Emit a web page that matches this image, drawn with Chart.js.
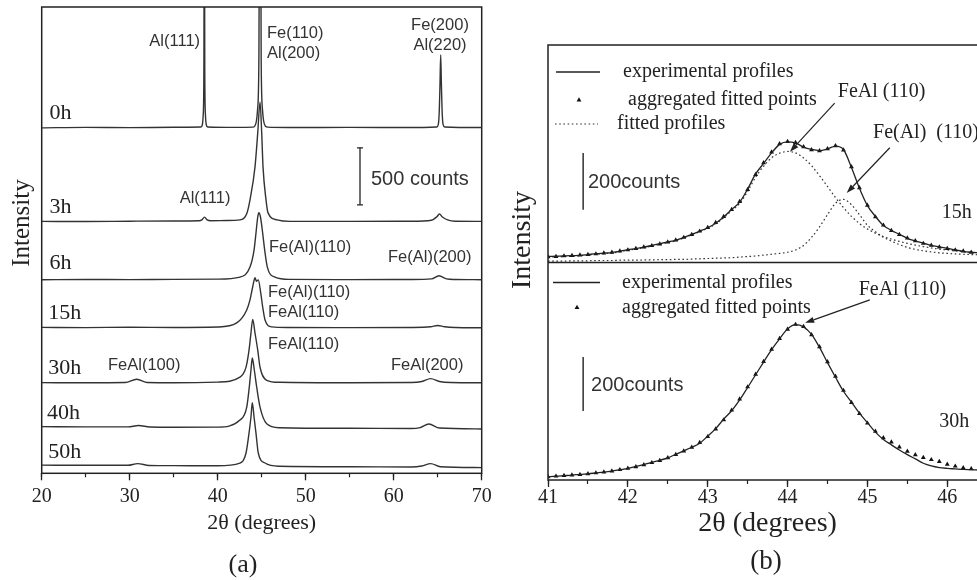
<!DOCTYPE html>
<html>
<head>
<meta charset="utf-8">
<title>FeAl milling XRD</title>
<script src="https://cdn.jsdelivr.net/npm/chart.js@4.4.1/dist/chart.umd.min.js"></script>
<style>
  html, body { margin: 0; padding: 0; background: #fff; }
  body { width: 977px; height: 580px; overflow: hidden; position: relative; }
  canvas { position: absolute; top: 0; }
  #milling { left: 0; }
  #fits { left: 500px; }
</style>
</head>
<body>
<canvas id="milling" width="500" height="580"></canvas>
<canvas id="fits" width="560" height="580"></canvas>
<script>
// ---------- (a) XRD patterns of the powder after each milling time ----------
const millTimes = ['0h', '3h', '6h', '15h', '30h', '40h', '50h'];
// vertical shift of each pattern (counts)
const patternOffsets = [3030, 2205, 1695, 1275, 790, 385, 50];

const theta0h  = [20, 25, 30, 35, 38.1, 38.25, 38.35, 38.43, 38.48, 38.53, 38.61, 38.71, 38.86, 42, 44.0, 44.19, 44.4, 44.53, 44.68, 44.81, 44.94, 45.09, 45.22, 45.43, 45.7, 48, 55, 62, 64.9, 65.07, 65.18, 65.26, 65.34, 65.42, 65.5, 65.61, 65.8, 70];
const counts0h = [0, 4, 2, 5, 8, 25, 110, 500, 2600, 500, 110, 25, 8, 4, 6, 14, 60, 160, 600, 3600, 600, 160, 60, 14, 6, 3, 4, 3, 8, 30, 150, 380, 640, 380, 150, 30, 8, 3];

const theta3h  = [20, 25, 30, 35, 37.9, 38.2, 38.5, 38.8, 39.2, 41, 42.53, 43.33, 43.67, 44.24, 44.55, 44.81, 45.0, 45.15, 45.49, 45.72, 46.74, 48.22, 55, 62, 64.3, 64.9, 65.2, 65.5, 66.2, 67, 70];
const counts3h = [5, 3, 6, 8, 10, 18, 42, 18, 10, 12, 18, 79, 193, 483, 781, 1050, 781, 483, 193, 79, 18, 5, 5, 6, 15, 45, 70, 45, 15, 6, 5];

const theta6h  = [20, 25, 30, 35, 40, 42.53, 43.67, 44.13, 44.35, 44.55, 44.68, 44.86, 45.11, 45.34, 45.64, 46.51, 48.2, 55, 62, 64.3, 65.15, 66.0, 67, 70];
const counts6h = [3, 5, 4, 6, 8, 26, 114, 263, 412, 553, 590, 553, 412, 263, 114, 26, 6, 4, 5, 10, 38, 10, 5, 3];

const theta15h  = [20, 25, 30, 35, 40, 42.16, 43.30, 43.67, 43.98, 44.24, 44.40, 44.61, 44.89, 45.11, 45.38, 46.14, 48, 55, 62, 64.2, 65.0, 65.8, 67, 70];
const counts15h = [5, 3, 6, 4, 8, 44, 158, 246, 361, 440, 410, 422, 308, 185, 70, 9, 4, 3, 4, 10, 22, 10, 4, 2];

const theta30h  = [20, 25, 29.5, 30.8, 32.0, 35, 40, 42.53, 43.22, 43.56, 43.78, 43.98, 44.24, 44.55, 44.81, 45.57, 47, 55, 62, 63.2, 64.2, 65.2, 66.5, 70];
const counts30h = [5, 4, 6, 35, 6, 4, 10, 53, 141, 290, 440, 560, 440, 290, 141, 26, 8, 4, 6, 15, 40, 15, 6, 4];

const theta40h  = [20, 25, 29.8, 31.0, 32.3, 35, 40, 42.53, 43.30, 43.59, 43.78, 43.93, 44.16, 44.43, 44.81, 45.57, 47, 55, 62, 63.0, 64.0, 65.2, 70];
const counts40h = [24, 22, 22, 34, 21, 19, 20, 82, 196, 372, 521, 626, 521, 372, 196, 50, 15, 10, 8, 16, 47, 12, 4];

const theta50h  = [20, 25, 29.8, 30.9, 32.2, 35, 40, 42.53, 43.22, 43.56, 43.78, 43.93, 44.13, 44.35, 44.61, 45.38, 47, 55, 62, 63.2, 64.2, 65.3, 70];
const counts50h = [22, 20, 20, 35, 19, 17, 16, 40, 128, 303, 444, 570, 444, 303, 128, 40, 12, 8, 5, 14, 35, 8, 0];

const millTheta  = [theta0h, theta3h, theta6h, theta15h, theta30h, theta40h, theta50h];
const millCounts = [counts0h, counts3h, counts6h, counts15h, counts30h, counts40h, counts50h];

const millTicks = [20, 30, 40, 50, 60, 70];

// ---------- (b) profile fitting of the (110) reflection ----------
const thetaB = [41.0, 41.1, 41.2, 41.3, 41.4, 41.5, 41.6, 41.7, 41.8, 41.9,
                42.0, 42.1, 42.2, 42.3, 42.4, 42.5, 42.6, 42.7, 42.8, 42.9,
                43.0, 43.1, 43.2, 43.3, 43.4, 43.5, 43.6, 43.7, 43.8, 43.9,
                44.0, 44.1, 44.2, 44.3, 44.4, 44.5, 44.6, 44.7, 44.8, 44.9,
                45.0, 45.1, 45.2, 45.3, 45.4, 45.5, 45.6, 45.7, 45.8, 45.9,
                46.0, 46.1, 46.2, 46.3, 46.4];

// 15 h
const exp15 = [21, 22, 23, 24, 25, 28, 31, 33, 35, 40,
               45, 49, 54, 60, 66, 72, 78, 88, 99, 110,
               122, 138, 160, 186, 212, 258, 311, 348, 385, 415,
               424, 420, 405, 397, 393, 399, 409, 397, 334, 261,
               200, 162, 130, 113, 99, 85, 76, 68, 60, 55,
               50, 44, 39, 36, 34];
const agg15 = [20, 21, 23, 24, 26, 28, 30, 33, 36, 40,
               44, 49, 54, 59, 65, 72, 79, 88, 98, 110,
               123, 140, 161, 186, 214, 256, 309, 350, 388, 417,
               425, 421, 406, 396, 392, 399, 410, 395, 336, 262,
               201, 160, 131, 112, 98, 86, 76, 67, 60, 54,
               49, 44, 40, 36, 33];
const fitFeAl15 = [19, 20, 21, 22, 24, 26, 29, 31, 33, 38,
                   43, 47, 52, 58, 64, 70, 76, 86, 97, 108,
                   120, 136, 157, 182, 207, 250, 300, 338, 368, 384,
                   390, 385, 367, 340, 305, 267, 228, 193, 162, 137,
                   118, 103, 91, 82, 74, 67, 61, 56, 51, 47,
                   44, 41, 38, 35, 33];
const fitFeAlSS15 = [5, 5, 5, 6, 6, 6, 7, 7, 7, 8,
                     8, 8, 9, 9, 10, 10, 11, 11, 12, 13,
                     14, 15, 16, 17, 19, 21, 23, 26, 29, 32,
                     36, 44, 60, 88, 125, 168, 208, 222, 203, 168,
                     131, 108, 89, 75, 63, 53, 46, 41, 37, 34,
                     32, 30, 29, 28, 27];
// 30 h
const exp30 = [12, 14, 16, 18, 21, 23, 26, 29, 33, 38,
               43, 50, 57, 65, 73, 82, 95, 108, 121, 136,
               162, 190, 225, 256, 296, 342, 389, 436, 482, 522,
               558, 574, 566, 538, 490, 434, 380, 328, 288, 247,
               212, 177, 150, 130, 111, 94, 78, 62, 52, 46,
               43, 41, 39, 38, 37];
const agg30 = [12, 14, 16, 18, 20, 23, 26, 29, 33, 38,
               43, 49, 56, 64, 72, 82, 94, 107, 121, 138,
               160, 188, 222, 258, 299, 344, 391, 438, 483, 523,
               557, 575, 567, 537, 492, 437, 383, 331, 286, 245,
               210, 180, 156, 140, 122, 106, 93, 83, 75, 68,
               58, 51, 45, 41, 38];
const fitTicks = [41, 42, 43, 44, 45, 46];

// ---------- shared styling ----------
const SERIF = "'Liberation Serif', 'Times New Roman', serif";
const SANS = "'Liberation Sans', Arial, sans-serif";
const INK = '#222';
const TRACE = '#333';

const pts = (xs, ys, shift = 0) => xs.map((x, i) => ({ x, y: ys[i] + shift }));

// box around the plotting area (+ optional separators at given y-scales)
function framePlugin(separators = []) {
  return {
    id: 'frame',
    afterDatasetsDraw(chart) {
      const { ctx, chartArea: a } = chart;
      ctx.save();
      ctx.strokeStyle = INK;
      ctx.lineWidth = 1.5;
      ctx.strokeRect(a.left, a.top, a.right - a.left, a.bottom - a.top);
      for (const id of separators) {
        const yb = chart.scales[id].bottom;
        ctx.beginPath();
        ctx.moveTo(a.left, yb);
        ctx.lineTo(a.right, yb);
        ctx.stroke();
      }
      ctx.restore();
    }
  };
}

// text placed at data coordinates
function notesPlugin(notes) {
  return {
    id: 'notes',
    afterDraw(chart) {
      const { ctx, scales } = chart;
      ctx.save();
      ctx.textBaseline = 'middle';
      for (const n of notes) {
        ctx.font = n.font;
        ctx.fillStyle = n.color || INK;
        ctx.textAlign = n.align || 'left';
        const px = scales.x.getPixelForValue(n.x);
        const py = scales[n.axis || 'y'].getPixelForValue(n.y);
        ctx.fillText(n.text, px, py);
      }
      ctx.restore();
    }
  };
}

// arrows pointing at reflections, in data coordinates
function arrowsPlugin(arrows) {
  return {
    id: 'arrows',
    afterDraw(chart) {
      const { ctx, scales } = chart;
      ctx.save();
      ctx.strokeStyle = INK;
      ctx.fillStyle = INK;
      ctx.lineWidth = 1.2;
      for (const a of arrows) {
        const ys = scales[a.axis];
        const x0 = scales.x.getPixelForValue(a.from[0]), y0 = ys.getPixelForValue(a.from[1]);
        const x1 = scales.x.getPixelForValue(a.to[0]), y1 = ys.getPixelForValue(a.to[1]);
        const ang = Math.atan2(y1 - y0, x1 - x0);
        const len = 9, half = 3;
        const bx = x1 - len * Math.cos(ang), by = y1 - len * Math.sin(ang);
        ctx.beginPath();
        ctx.moveTo(x0, y0);
        ctx.lineTo(bx, by);
        ctx.stroke();
        ctx.beginPath();
        ctx.moveTo(x1, y1);
        ctx.lineTo(bx + half * Math.sin(ang), by - half * Math.cos(ang));
        ctx.lineTo(bx - half * Math.sin(ang), by + half * Math.cos(ang));
        ctx.closePath();
        ctx.fill();
      }
      ctx.restore();
    }
  };
}

// free captions in canvas pixels (axis names, panel letters)
function captionsPlugin(caps) {
  return {
    id: 'captions',
    afterDraw(chart) {
      const { ctx } = chart;
      for (const c of caps) {
        ctx.save();
        ctx.font = c.font;
        ctx.fillStyle = INK;
        ctx.textAlign = 'center';
        ctx.textBaseline = 'middle';
        ctx.translate(c.x, c.y);
        if (c.rotate) ctx.rotate(c.rotate);
        ctx.fillText(c.text, 0, 0);
        ctx.restore();
      }
    }
  };
}

function bottomAxes(min, max, major, minor, tickFont, titleText, titleFont, titlePad, axisHeight, tickPad) {
  return {
    xMinor: {
      type: 'linear', position: 'bottom', weight: 0, min, max,
      ticks: { stepSize: minor, display: false },
      grid: { drawOnChartArea: false, tickLength: 4, tickWidth: 1.2, tickColor: INK },
      border: { display: false },
      afterFit(s) { s.height = 0; }
    },
    x: {
      type: 'linear', position: 'bottom', weight: 1, min, max,
      afterBuildTicks(s) { s.ticks = major.map(v => ({ value: v })); },
      ticks: { stepSize: major[1] - major[0], includeBounds: false, padding: tickPad, color: INK,
               font: { family: SERIF, size: tickFont, lineHeight: 1 } },
      grid: { drawOnChartArea: false, tickLength: 7, tickWidth: 1.3, tickColor: INK },
      border: { display: false },
      title: { display: true, text: titleText, color: INK,
               font: { family: SERIF, size: titleFont }, padding: { top: 0, bottom: titlePad } },
      afterFit(s) { s.height = axisHeight; }
    }
  };
}

// ---------- panel (a) ----------
const peakFont = `16.5px ${SANS}`;
const timeFont = `22px ${SERIF}`;
const timeLabelTheta = [20.9, 20.9, 20.9, 20.75, 20.75, 20.6, 20.75];
const timeLabelCounts = [3160, 2336, 1845, 1406, 924, 529, 187];

const millNotes = [
  { text: 'Al(111)', x: 38.0, y: 3792, align: 'right', font: peakFont, color: TRACE },
  { text: 'Fe(110)', x: 45.6, y: 3862, font: peakFont, color: TRACE },
  { text: 'Al(200)', x: 45.6, y: 3686, font: peakFont, color: TRACE },
  { text: 'Fe(200)', x: 65.26, y: 3932, align: 'center', font: peakFont, color: TRACE },
  { text: 'Al(220)', x: 65.26, y: 3756, align: 'center', font: peakFont, color: TRACE },
  { text: '500 counts', x: 57.42, y: 2573, font: `20px ${SANS}`, color: TRACE },
  { text: 'Al(111)', x: 38.56, y: 2415, align: 'center', font: peakFont, color: TRACE },
  { text: 'Fe(Al)(110)', x: 45.83, y: 1985, font: peakFont, color: TRACE },
  { text: 'Fe(Al)(200)', x: 59.35, y: 1897, font: peakFont, color: TRACE },
  { text: 'Fe(Al)(110)', x: 45.72, y: 1590, font: peakFont, color: TRACE },
  { text: 'FeAl(110)', x: 45.72, y: 1415, font: peakFont, color: TRACE },
  { text: 'FeAl(110)', x: 45.72, y: 1126, font: peakFont, color: TRACE },
  { text: 'FeAl(100)', x: 27.53, y: 950, font: peakFont, color: TRACE },
  { text: 'FeAl(200)', x: 59.69, y: 950, font: peakFont, color: TRACE },
  ...millTimes.map((t, i) => ({ text: t, x: timeLabelTheta[i], y: timeLabelCounts[i], font: timeFont }))
];

// 500-count scale bar
const barA = { theta: 56.17, from: 2355, size: 500 };

const millDatasets = millTimes.map((t, i) => ({
  label: t,
  data: pts(millTheta[i], millCounts[i], patternOffsets[i]),
  borderColor: TRACE,
  borderWidth: 1.4,
  pointRadius: 0,
  cubicInterpolationMode: 'monotone',
  fill: false
}));
millDatasets.push({
  label: '500 counts',
  data: [{ x: barA.theta, y: barA.from }, { x: barA.theta, y: barA.from + barA.size }],
  borderColor: INK, borderWidth: 1.3,
  pointStyle: 'line', pointRadius: 3, pointBorderColor: INK, pointBorderWidth: 1.3
});

new Chart(document.getElementById('milling'), {
  type: 'line',
  data: { datasets: millDatasets },
  options: {
    responsive: false, animation: false, devicePixelRatio: 1, events: [],
    layout: { padding: { left: 41.7, top: 7, right: 18.3, bottom: 0 } },
    plugins: { legend: { display: false }, tooltip: { enabled: false } },
    scales: {
      ...bottomAxes(20, 70, millTicks, 5, 20, '2θ (degrees)', 22, 44, 106.7, 6),
      y: { type: 'linear', min: 0, max: 4090, display: false }
    }
  },
  plugins: [
    framePlugin(),
    notesPlugin(millNotes),
    captionsPlugin([
      { text: 'Intensity', x: 22, y: 223, rotate: -Math.PI / 2, font: `25px ${SERIF}` },
      { text: '(a)', x: 243, y: 565, font: `26px ${SERIF}` }
    ])
  ]
});

// ---------- panel (b) ----------
const barB15 = { theta: 41.44, from: 185, size: 200 };
const barB30 = { theta: 41.44, from: 255, size: 200 };
const legFont = `20px ${SERIF}`;

const fitDatasets = [
  { label: 'experimental profiles', yAxisID: 'y15', data: pts(thetaB, exp15),
    borderColor: INK, borderWidth: 1.3, pointRadius: 0, cubicInterpolationMode: 'monotone' },
  { label: 'aggregated fitted points', yAxisID: 'y15', data: pts(thetaB, agg15),
    showLine: false, pointStyle: 'triangle', pointRadius: 2.8,
    pointBackgroundColor: '#111', pointBorderColor: '#111', pointBorderWidth: 0 },
  { label: 'fitted profiles', yAxisID: 'y15', data: pts(thetaB, fitFeAl15),
    borderColor: TRACE, borderWidth: 1.2, borderDash: [1.6, 2.6], pointRadius: 0, cubicInterpolationMode: 'monotone' },
  { label: 'fitted profiles', yAxisID: 'y15', data: pts(thetaB, fitFeAlSS15),
    borderColor: TRACE, borderWidth: 1.2, borderDash: [1.6, 2.6], pointRadius: 0, cubicInterpolationMode: 'monotone' },
  { label: 'experimental profiles', yAxisID: 'y30', data: pts(thetaB, exp30),
    borderColor: INK, borderWidth: 1.3, pointRadius: 0, cubicInterpolationMode: 'monotone' },
  { label: 'aggregated fitted points', yAxisID: 'y30', data: pts(thetaB, agg30),
    showLine: false, pointStyle: 'triangle', pointRadius: 2.8,
    pointBackgroundColor: '#111', pointBorderColor: '#111', pointBorderWidth: 0 },
  { label: '200counts', yAxisID: 'y15',
    data: [{ x: barB15.theta, y: barB15.from }, { x: barB15.theta, y: barB15.from + barB15.size }],
    borderColor: INK, borderWidth: 1.4, pointRadius: 0 },
  { label: '200counts', yAxisID: 'y30',
    data: [{ x: barB30.theta, y: barB30.from }, { x: barB30.theta, y: barB30.from + barB30.size }],
    borderColor: INK, borderWidth: 1.4, pointRadius: 0 }
];

// in-panel legends: dataset index, sample geometry and text start, relative to each sub-panel's top-left
const fitLegends = {
  y15: [
    { ds: 0, kind: 'line', x0: 8, x1: 52, dy: 27, tx: 75 },
    { ds: 1, kind: 'point', x0: 31, dy: 55, tx: 80 },
    { ds: 2, kind: 'line', x0: 7, x1: 50, dy: 79, tx: 69 }
  ],
  y30: [
    { ds: 4, kind: 'line', x0: 5, x1: 52, dy: 20, tx: 74 },
    { ds: 5, kind: 'point', x0: 29, dy: 45, tx: 74 }
  ]
};

const legendPlugin = {
  id: 'panelLegend',
  afterDraw(chart) {
    const { ctx, chartArea } = chart;
    ctx.save();
    for (const axisId of Object.keys(fitLegends)) {
      const top = chart.scales[axisId].top;
      for (const row of fitLegends[axisId]) {
        const ds = chart.data.datasets[row.ds];
        const y = top + row.dy;
        if (row.kind === 'line') {
          ctx.strokeStyle = ds.borderColor;
          ctx.lineWidth = ds.borderWidth;
          ctx.setLineDash(ds.borderDash || []);
          ctx.beginPath();
          ctx.moveTo(chartArea.left + row.x0, y);
          ctx.lineTo(chartArea.left + row.x1, y);
          ctx.stroke();
          ctx.setLineDash([]);
        } else {
          ctx.fillStyle = ds.pointBackgroundColor;
          ctx.strokeStyle = ds.pointBorderColor;
          Chart.helpers.drawPoint(ctx, { pointStyle: ds.pointStyle, radius: ds.pointRadius, borderWidth: 0, rotation: 0 },
                                  chartArea.left + row.x0, y);
        }
        ctx.font = legFont;
        ctx.fillStyle = INK;
        ctx.textAlign = 'left';
        ctx.textBaseline = 'middle';
        ctx.fillText(ds.label, chartArea.left + row.tx, y);
      }
    }
    ctx.restore();
  }
};

const fitNotes = [
  { text: 'FeAl (110)', x: 44.63, y: 599, axis: 'y15', font: legFont },
  { text: 'Fe(Al)  (110)', x: 45.07, y: 455, axis: 'y15', font: legFont },
  { text: '200counts', x: 41.50, y: 280, axis: 'y15', font: `20px ${SANS}`, color: TRACE },
  { text: '15h', x: 45.93, y: 174, axis: 'y15', font: legFont },
  { text: 'FeAl (110)', x: 44.89, y: 703, axis: 'y30', font: legFont },
  { text: '200counts', x: 41.54, y: 348, axis: 'y30', font: `20px ${SANS}`, color: TRACE },
  { text: '30h', x: 45.90, y: 215, axis: 'y30', font: legFont }
];

const fitArrows = [
  { axis: 'y15', from: [44.59, 560], to: [44.03, 389] },
  { axis: 'y15', from: [45.28, 403], to: [44.74, 244] },
  { axis: 'y30', from: [45.03, 666], to: [44.22, 581] }
];

new Chart(document.getElementById('fits'), {
  type: 'line',
  data: { datasets: fitDatasets },
  options: {
    responsive: false, animation: false, devicePixelRatio: 1, events: [],
    layout: { padding: { left: 48, top: 45, right: 72.8, bottom: 0 } },
    plugins: { legend: { display: false }, tooltip: { enabled: false } },
    scales: {
      ...bottomAxes(41, 46.5, fitTicks, 0.5, 20, '2θ (degrees)', 28, 40, 100, 1),
      y15: { type: 'linear', position: 'left', stack: 'fit', stackWeight: 1, weight: 1, min: 0, max: 764, display: false },
      y30: { type: 'linear', position: 'left', stack: 'fit', stackWeight: 1, weight: 0, min: 0, max: 804, display: false }
    }
  },
  plugins: [
    framePlugin(['y15']),
    notesPlugin(fitNotes),
    arrowsPlugin(fitArrows),
    legendPlugin,
    captionsPlugin([
      { text: 'Intensity', x: 23, y: 240, rotate: -Math.PI / 2, font: `28px ${SERIF}` },
      { text: '(b)', x: 266, y: 562, font: `27px ${SERIF}` }
    ])
  ]
});
</script>
</body>
</html>
